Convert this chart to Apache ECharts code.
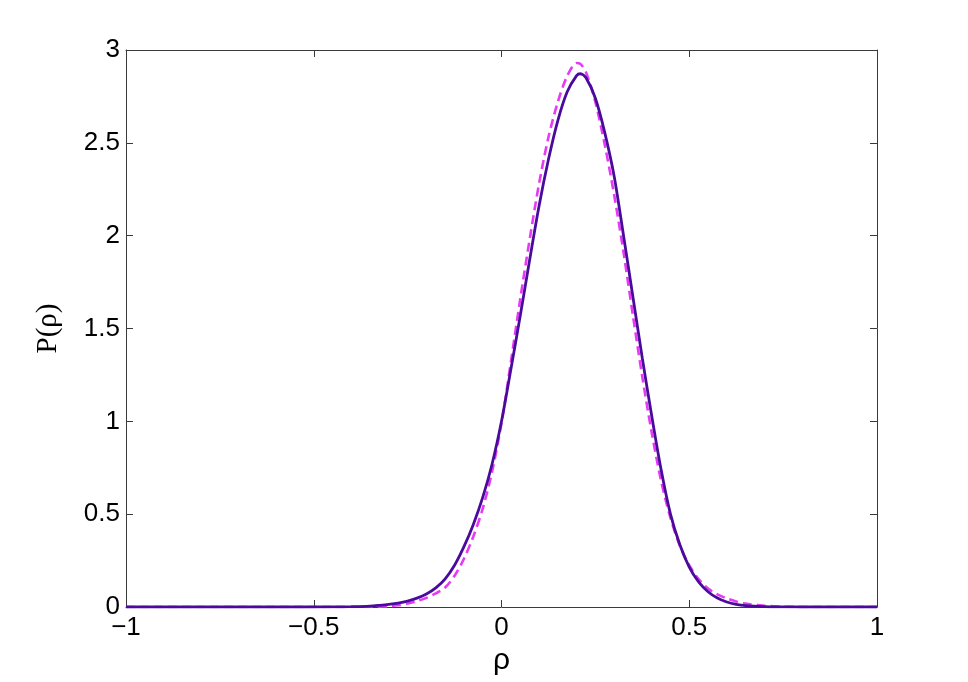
<!DOCTYPE html>
<html>
<head>
<meta charset="utf-8">
<script src="https://cdn.jsdelivr.net/npm/echarts@6/dist/echarts.min.js"></script>
<style>
html,body{margin:0;padding:0;background:#fff;}
#chart{width:968px;height:682px;}
</style>
</head>
<body>
<div id="chart"></div>
<script>
// rho grid (x values)
var rho = [-1, -0.6, -0.45, -0.4, -0.35, -0.325, -0.3, -0.275, -0.25, -0.225, -0.2, -0.175, -0.15, -0.125, -0.1, -0.075, -0.05, -0.025, 0, 0.025, 0.05, 0.075, 0.1, 0.125, 0.15, 0.175, 0.2, 0.21, 0.225, 0.25, 0.275, 0.3, 0.325, 0.35, 0.375, 0.4, 0.425, 0.45, 0.475, 0.5, 0.525, 0.55, 0.575, 0.6, 0.625, 0.65, 0.7, 0.75, 0.8, 1];
// solid curve P(rho)
var solidP = [0, 0, 0.0005, 0.002, 0.005, 0.009, 0.014, 0.021, 0.032, 0.048, 0.07, 0.103, 0.152, 0.225, 0.325, 0.445, 0.59, 0.77, 1.0, 1.28, 1.57, 1.87, 2.16, 2.41, 2.62, 2.775, 2.862, 2.872, 2.85, 2.74, 2.555, 2.32, 2.0, 1.67, 1.34, 1.03, 0.74, 0.5, 0.335, 0.215, 0.135, 0.082, 0.048, 0.027, 0.014, 0.007, 0.002, 0.0005, 0, 0];
// dashed curve P(rho)
var dashedP = [0, 0, 0, 0, 0, 0.002, 0.004, 0.009, 0.019, 0.032, 0.049, 0.073, 0.105, 0.168, 0.26, 0.38, 0.53, 0.73, 0.99, 1.32, 1.66, 1.98, 2.28, 2.53, 2.72, 2.86, 2.93, 2.925, 2.88, 2.72, 2.49, 2.22, 1.91, 1.57, 1.24, 0.94, 0.68, 0.48, 0.33, 0.225, 0.15, 0.1, 0.068, 0.046, 0.03, 0.018, 0.007, 0.002, 0, 0];
var xTicks = [-1, -0.5, 0, 0.5, 1];
var yTicks = [0, 0.5, 1, 1.5, 2, 2.5, 3];

function pairs(ys){ return rho.map(function(r,i){ return [r, ys[i]]; }); }
function fmt(v){ return String(v).replace('-', '\u2212'); }

var chart = echarts.init(document.getElementById('chart'), null, {renderer:'canvas'});
var axisLineStyle = {color:'#3a3a3a', width:1};
var labelFont = {color:'#000', fontSize:26, fontFamily:'Liberation Sans, Arial, sans-serif'};
chart.setOption({
  animation:false,
  backgroundColor:'#fff',
  grid:{left:126, right:91, top:50, bottom:75, containLabel:false},
  xAxis:[{
    type:'value', min:xTicks[0], max:xTicks[xTicks.length-1], interval:0.5, position:'bottom',
    axisLine:{show:true, onZero:false, lineStyle:axisLineStyle},
    axisTick:{show:true, inside:true, length:7, lineStyle:axisLineStyle},
    splitLine:{show:false},
    axisLabel:Object.assign({margin:8, formatter:fmt}, labelFont),
    name:'\u03c1', nameLocation:'middle', nameGap:30,
    nameTextStyle:{color:'#000', fontSize:30, fontFamily:'Liberation Sans, Arial, sans-serif'}
  },{
    type:'value', min:xTicks[0], max:xTicks[xTicks.length-1], interval:0.5, position:'top',
    axisLine:{show:true, onZero:false, lineStyle:axisLineStyle},
    axisTick:{show:true, inside:true, length:7, lineStyle:axisLineStyle},
    splitLine:{show:false}, axisLabel:{show:false}
  }],
  yAxis:[{
    type:'value', min:yTicks[0], max:yTicks[yTicks.length-1], interval:0.5, position:'left',
    axisLine:{show:true, onZero:false, lineStyle:axisLineStyle},
    axisTick:{show:true, inside:true, length:7, lineStyle:axisLineStyle},
    splitLine:{show:false},
    axisLabel:Object.assign({margin:6, formatter:fmt}, labelFont),
    name:'P(\u03c1)', nameLocation:'middle', nameGap:63, nameRotate:90,
    nameTextStyle:{color:'#000', fontSize:29, fontFamily:'Liberation Serif, Times New Roman, serif'}
  },{
    type:'value', min:yTicks[0], max:yTicks[yTicks.length-1], interval:0.5, position:'right',
    axisLine:{show:true, onZero:false, lineStyle:axisLineStyle},
    axisTick:{show:true, inside:true, length:7, lineStyle:axisLineStyle},
    splitLine:{show:false}, axisLabel:{show:false}
  }],
  series:[{
    type:'line', xAxisIndex:0, yAxisIndex:0, data:pairs(dashedP),
    smooth:0.3, showSymbol:false, symbol:'none', z:2,
    lineStyle:{color:'#e63af5', width:2.6, type:[9,5]}
  },{
    type:'line', xAxisIndex:0, yAxisIndex:0, data:pairs(solidP),
    smooth:0.3, showSymbol:false, symbol:'none', z:3,
    lineStyle:{color:'#4a0a9c', width:2.8}
  }]
});
</script>
</body>
</html>
